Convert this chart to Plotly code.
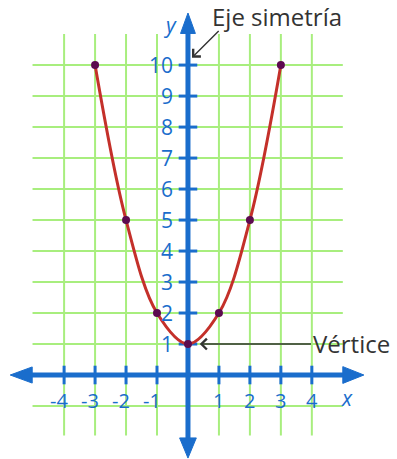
import plotly.graph_objects as go

# parabola points
x_values = [-3, -2, -1, 0, 1, 2, 3]
y_values = [10, 5, 2, 1, 2, 5, 10]

x_ticks = [-4, -3, -2, -1, 1, 2, 3, 4]
x_tick_labels = ["-4", "-3", "-2", "-1", "1", "2", "3", "4"]
y_ticks = [1, 2, 3, 4, 5, 6, 7, 8, 9, 10]
y_tick_labels = ["1", "2", "3", "4", "5", "6", "7", "8", "9", "10"]

grid_x = [-4, -3, -2, -1, 1, 2, 3, 4]
grid_y = [-1, 1, 2, 3, 4, 5, 6, 7, 8, 9, 10]

BLUE = "#1a6dcc"
GREEN = "#a8ee7e"
RED = "#c4302a"
DOT = "#5c0b4f"
INK = "#333333"
FONT = "Open Sans, DejaVu Sans, sans-serif"

fig = go.Figure()

# grid
for gx in grid_x:
    fig.add_shape(type="line", x0=gx, x1=gx, y0=-1.95, y1=11.0,
                  line=dict(color=GREEN, width=2), layer="below")
for gy in grid_y:
    fig.add_shape(type="line", x0=-5.02, x1=5.0, y0=gy, y1=gy,
                  line=dict(color=GREEN, width=2), layer="below")

# axes
fig.add_shape(type="line", x0=-5.05, x1=5.02, y0=0, y1=0,
              line=dict(color=BLUE, width=5), layer="below")
fig.add_shape(type="line", x0=0, x1=0, y0=-2.05, y1=11.05,
              line=dict(color=BLUE, width=5), layer="below")
arrow_heads = [
    "M 5.68,0 L 5.0,0.27 L 5.0,-0.27 Z",
    "M -5.74,0 L -5.03,0.26 L -5.03,-0.26 Z",
    "M 0,11.68 L 0.24,11.02 L -0.24,11.02 Z",
    "M 0,-2.68 L 0.27,-2.03 L -0.27,-2.03 Z",
]
for p in arrow_heads:
    fig.add_shape(type="path", path=p, fillcolor=BLUE,
                  line=dict(color=BLUE, width=1), layer="below")

# tick marks
for tx in x_ticks:
    fig.add_shape(type="line", x0=tx, x1=tx, y0=-0.3, y1=0.3,
                  line=dict(color=BLUE, width=3), layer="below")
for ty in y_ticks:
    fig.add_shape(type="line", x0=-0.3, x1=0.3, y0=ty, y1=ty,
                  line=dict(color=BLUE, width=3), layer="below")

# curve and points
fig.add_trace(go.Scatter(x=x_values, y=y_values, mode="lines",
                         line=dict(color=RED, width=3, shape="spline", smoothing=1.0),
                         hoverinfo="skip"))
fig.add_trace(go.Scatter(x=x_values, y=y_values, mode="markers",
                         marker=dict(color=DOT, size=8), hoverinfo="skip"))

# tick labels
for tx, lab in zip(x_ticks, x_tick_labels):
    fig.add_annotation(x=tx, y=-0.82, text=lab, showarrow=False,
                       xanchor="center", yanchor="middle",
                       xshift=-5 if tx < 0 else 0,
                       font=dict(family=FONT, size=20, color=BLUE))
for ty, lab in zip(y_ticks, y_tick_labels):
    fig.add_annotation(x=-0.42, y=ty, text=lab, showarrow=False,
                       xanchor="right", yanchor="middle",
                       font=dict(family=FONT, size=21, color=BLUE))

fig.add_annotation(x=5.14, y=-0.74, text="<i>x</i>", showarrow=False,
                   font=dict(family=FONT, size=21, color=BLUE))
fig.add_annotation(x=-0.57, y=11.3, text="<i>y</i>", showarrow=False,
                   font=dict(family=FONT, size=21, color=BLUE))

# callouts
fig.add_annotation(x=0.13, y=10.24, ax=1.04, ay=11.15, axref="x", ayref="y",
                   text="", showarrow=True, arrowhead=4, arrowsize=1.5,
                   arrowwidth=1.4, arrowcolor=INK, standoff=0)
fig.add_annotation(x=0.70, y=11.56, text="Eje simetría", showarrow=False,
                   xanchor="left", yanchor="middle",
                   font=dict(family=FONT, size=24, color=INK))
fig.add_annotation(x=0.38, y=1.0, ax=4.02, ay=1.0, axref="x", ayref="y",
                   text="", showarrow=True, arrowhead=4, arrowsize=1.5,
                   arrowwidth=1.4, arrowcolor=INK, standoff=0)
fig.add_annotation(x=3.98, y=1.03, text="Vértice", showarrow=False,
                   xanchor="left", yanchor="middle",
                   font=dict(family=FONT, size=24, color=INK))

fig.update_layout(
    width=397, height=459,
    margin=dict(l=0, r=0, t=0, b=0),
    paper_bgcolor="white", plot_bgcolor="white",
    showlegend=False,
    xaxis=dict(range=[-6.07, 6.75], visible=False, fixedrange=True),
    yaxis=dict(range=[-2.71, 12.10], visible=False, fixedrange=True),
)

# page has a default 8px body margin; drop it so the figure sits at 0,0
fig.write_html("out.html", config={"displayModeBar": False},
               post_script="document.body.style.margin = '0';")
